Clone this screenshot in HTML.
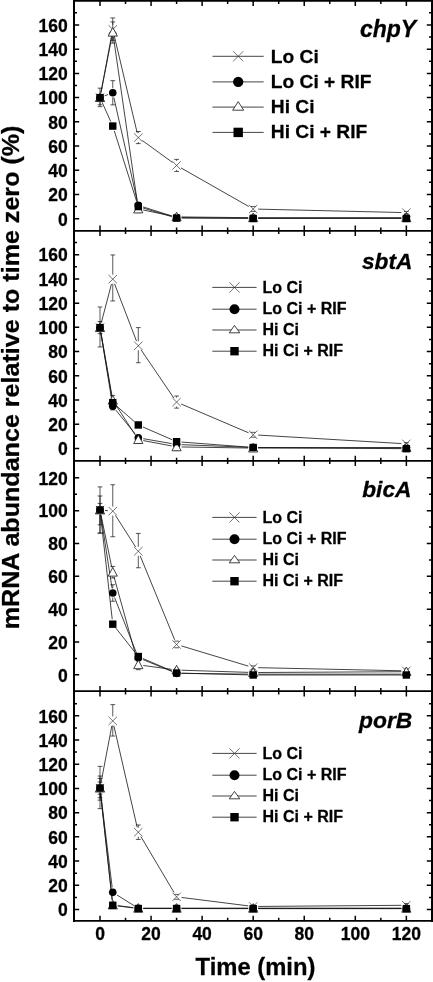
<!DOCTYPE html>
<html lang="en"><head><meta charset="utf-8"><title>mRNA abundance relative to time zero</title>
<style>html,body{margin:0;padding:0;background:#fff}body{width:433px;height:982px;overflow:hidden}svg{display:block}text{stroke:#000;stroke-width:0.28px;stroke-linejoin:round}</style>
</head><body>
<svg width="433" height="982" viewBox="0 0 433 982" font-family="'Liberation Sans', Arial, Helvetica, sans-serif" font-weight="bold" fill="#000">
<rect width="433" height="982" fill="#fff"/>
<g><path d="M100.92 92.69L111.84 34.34M113.91 34.29L137.15 132.7M142.34 140.5L172.55 162.47M180.94 167.89L248.83 206.54M258.18 209.13L401.36 212.53" fill="none" stroke="#151515" stroke-width="0.8"/><path d="M104.67 95.83L108.09 94.53M113.87 97.63L137.19 200.5M143.06 206.89L171.82 215.98M181.59 217.53L248.18 218.05M258.18 218.09L401.36 218.09" fill="none" stroke="#151515" stroke-width="0.8"/><path d="M100.96 92.69L111.81 37.11M113.48 37.15L137.58 204.06M143.19 210.02L171.69 215.88M181.59 216.94L248.18 217.68M258.18 217.73L401.36 217.73" fill="none" stroke="#151515" stroke-width="0.8"/><path d="M102.05 102.16L110.72 121.5M114.28 130.82L136.78 201.82M143.08 208.03L171.8 216.66M181.59 218.12L248.18 218.43M258.18 218.46L401.36 218.46" fill="none" stroke="#151515" stroke-width="0.8"/><path d="M100 88.15V93.1M97.6 88.15H102.4M100 102.1V106.68M97.6 106.68H102.4" fill="none" stroke="#111" stroke-width="0.7"/><path d="M112.77 17.92V24.92M110.36 17.92H115.17M112.77 33.92V40.32M110.36 40.32H115.17" fill="none" stroke="#111" stroke-width="0.7"/><path d="M138.3 131.51V133.06M135.9 131.51H140.7M138.3 142.06V143.62M135.9 143.62H140.7" fill="none" stroke="#111" stroke-width="0.7"/><path d="M176.59 159.36V160.92M174.19 159.36H178.99M176.59 169.92V171.47M174.19 171.47H178.99" fill="none" stroke="#111" stroke-width="0.7"/><path d="M250.78 206.59H255.58M250.78 211.43H255.58" fill="none" stroke="#111" stroke-width="0.7"/><path d="M403.96 211.43H408.76M403.96 213.86H408.76" fill="none" stroke="#111" stroke-width="0.7"/><path d="M100 102.1V104.87M97.6 104.87H102.4" fill="none" stroke="#111" stroke-width="0.7"/><path d="M112.77 80.65V88.26M110.36 80.65H115.17M112.77 97.26V104.87M110.36 104.87H115.17" fill="none" stroke="#111" stroke-width="0.7"/><path d="M135.9 202.96H140.7M135.9 207.8H140.7" fill="none" stroke="#111" stroke-width="0.7"/><path d="M112.77 21.91V27.71M110.36 21.91H115.17M112.77 36.71V43.1M110.36 43.1H115.17" fill="none" stroke="#111" stroke-width="0.7"/><path d="M135.9 205.38H140.7M135.9 212.64H140.7" fill="none" stroke="#111" stroke-width="0.7"/><path d="M174.19 215.67H178.99M174.19 218.09H178.99" fill="none" stroke="#111" stroke-width="0.7"/><path d="M135.9 204.17H140.7M135.9 209.01H140.7" fill="none" stroke="#111" stroke-width="0.7"/><path d="M95.8 93.4L104.2 101.8M95.8 101.8L104.2 93.4" stroke="#333" stroke-width="0.7" fill="none"/><path d="M108.56 25.22L116.97 33.62M108.56 33.62L116.97 25.22" stroke="#333" stroke-width="0.7" fill="none"/><path d="M134.1 133.36L142.5 141.76M134.1 141.76L142.5 133.36" stroke="#333" stroke-width="0.7" fill="none"/><path d="M172.39 161.22L180.79 169.62M172.39 169.62L180.79 161.22" stroke="#333" stroke-width="0.7" fill="none"/><path d="M248.98 204.81L257.38 213.21M248.98 213.21L257.38 204.81" stroke="#333" stroke-width="0.7" fill="none"/><path d="M402.16 208.44L410.56 216.84M402.16 216.84L410.56 208.44" stroke="#333" stroke-width="0.7" fill="none"/><circle cx="100" cy="97.6" r="3.8" fill="#000"/><circle cx="112.77" cy="92.76" r="3.8" fill="#000"/><circle cx="138.3" cy="205.38" r="3.8" fill="#000"/><circle cx="176.59" cy="217.49" r="3.8" fill="#000"/><circle cx="253.18" cy="218.09" r="3.8" fill="#000"/><circle cx="406.36" cy="218.09" r="3.8" fill="#000"/><path d="M100 92.9L104.6 101.5L95.4 101.5Z" fill="#fff" stroke="#111" stroke-width="0.8"/><path d="M112.77 27.51L117.36 36.11L108.17 36.11Z" fill="#fff" stroke="#111" stroke-width="0.8"/><path d="M138.3 204.31L142.9 212.91L133.7 212.91Z" fill="#fff" stroke="#111" stroke-width="0.8"/><path d="M176.59 212.18L181.19 220.78L171.99 220.78Z" fill="#fff" stroke="#111" stroke-width="0.8"/><path d="M253.18 213.03L257.78 221.63L248.58 221.63Z" fill="#fff" stroke="#111" stroke-width="0.8"/><path d="M406.36 213.03L410.96 221.63L401.76 221.63Z" fill="#fff" stroke="#111" stroke-width="0.8"/><rect x="96.3" y="93.9" width="7.4" height="7.4" fill="#000"/><rect x="109.06" y="122.36" width="7.4" height="7.4" fill="#000"/><rect x="134.6" y="202.89" width="7.4" height="7.4" fill="#000"/><rect x="172.89" y="214.39" width="7.4" height="7.4" fill="#000"/><rect x="249.48" y="214.76" width="7.4" height="7.4" fill="#000"/><rect x="402.66" y="214.76" width="7.4" height="7.4" fill="#000"/></g>
<path d="M212.5 56.3H263.7" stroke="#151515" stroke-width="0.8"/>
<path d="M233.1 51.2L243.3 61.4M233.1 61.4L243.3 51.2" stroke="#333" stroke-width="0.7" fill="none"/>
<text x="270.8" y="62.7" font-size="19.2">Lo Ci</text>
<path d="M212.5 81.9H263.7" stroke="#151515" stroke-width="0.8"/>
<circle cx="238.2" cy="81.9" r="5.15" fill="#000"/>
<text x="270.8" y="87.8" font-size="19.2">Lo Ci + RIF</text>
<path d="M212.5 107.1H263.7" stroke="#151515" stroke-width="0.8"/>
<path d="M238.2 101.6L243.7 110.2L232.7 110.2Z" fill="#fff" stroke="#111" stroke-width="0.8"/>
<text x="270.8" y="113.3" font-size="19.2">Hi Ci</text>
<path d="M212.5 132.4H263.7" stroke="#151515" stroke-width="0.8"/>
<rect x="233.5" y="127.7" width="9.4" height="9.4" fill="#000"/>
<text x="270.8" y="138.4" font-size="19.2">Hi Ci + RIF</text>
<text x="416.2" y="36.6" font-size="23" font-style="italic" text-anchor="end">chpY</text>
<g><path d="M101.27 322.77L111.49 283.99M114.55 283.83L136.51 341.1M141.11 349.9L173.78 397.94M181.19 404.04L248.58 432.81M258.17 435.07L401.37 443.56" fill="none" stroke="#151515" stroke-width="0.8"/><path d="M100.8 332.54L111.96 401.38M115.91 410.2L135.15 433.92M143.22 438.66L171.66 443.6M181.59 444.66L248.18 447.29M258.18 447.51L401.36 448.07" fill="none" stroke="#151515" stroke-width="0.8"/><path d="M100.87 332.52L111.9 395.34M115.49 404.45L135.57 435.42M143.21 440.55L171.68 445.95M181.59 446.96L248.18 448.02M258.18 448.07L401.36 447.51" fill="none" stroke="#151515" stroke-width="0.8"/><path d="M100.84 332.53L111.93 397.75M116.53 405.97L134.53 421.68M142.88 426.96L172.01 439.68M181.58 442.05L248.19 447.11M258.18 447.53L401.36 448.66" fill="none" stroke="#151515" stroke-width="0.8"/><path d="M100 307.01V323.1M97.6 307.01H102.4M100 332.1V346.98M97.6 346.98H102.4" fill="none" stroke="#111" stroke-width="0.7"/><path d="M112.77 254.94V274.66M110.36 254.94H115.17M112.77 283.66V300.96M110.36 300.96H115.17" fill="none" stroke="#111" stroke-width="0.7"/><path d="M138.3 327.6V341.26M135.9 327.6H140.7M138.3 350.26V362.72M135.9 362.72H140.7" fill="none" stroke="#111" stroke-width="0.7"/><path d="M176.59 396.02V397.58M174.19 396.02H178.99M176.59 406.58V408.13M174.19 408.13H178.99" fill="none" stroke="#111" stroke-width="0.7"/><path d="M250.78 432.35H255.58M250.78 437.2H255.58" fill="none" stroke="#111" stroke-width="0.7"/><path d="M403.96 442.64H408.76M403.96 445.07H408.76" fill="none" stroke="#111" stroke-width="0.7"/><path d="M100 321.54V323.1M97.6 321.54H102.4M100 332.1V333.65M97.6 333.65H102.4" fill="none" stroke="#111" stroke-width="0.7"/><path d="M110.36 402.68H115.17M110.36 409.95H115.17" fill="none" stroke="#111" stroke-width="0.7"/><path d="M135.9 435.38H140.7M135.9 440.22H140.7" fill="none" stroke="#111" stroke-width="0.7"/><path d="M174.19 443.25H178.99M174.19 445.67H178.99" fill="none" stroke="#111" stroke-width="0.7"/><path d="M112.77 395.42V395.76M110.36 395.42H115.17M112.77 404.76V405.1M110.36 405.1H115.17" fill="none" stroke="#111" stroke-width="0.7"/><path d="M135.9 435.98H140.7M135.9 443.25H140.7" fill="none" stroke="#111" stroke-width="0.7"/><path d="M174.19 443.25H178.99M174.19 450.52H178.99" fill="none" stroke="#111" stroke-width="0.7"/><path d="M110.36 400.26H115.17M110.36 405.1H115.17" fill="none" stroke="#111" stroke-width="0.7"/><path d="M95.8 323.4L104.2 331.8M95.8 331.8L104.2 323.4" stroke="#333" stroke-width="0.7" fill="none"/><path d="M108.56 274.96L116.97 283.36M108.56 283.36L116.97 274.96" stroke="#333" stroke-width="0.7" fill="none"/><path d="M134.1 341.56L142.5 349.96M134.1 349.96L142.5 341.56" stroke="#333" stroke-width="0.7" fill="none"/><path d="M172.39 397.88L180.79 406.28M172.39 406.28L180.79 397.88" stroke="#333" stroke-width="0.7" fill="none"/><path d="M248.98 430.57L257.38 438.97M248.98 438.97L257.38 430.57" stroke="#333" stroke-width="0.7" fill="none"/><path d="M402.16 439.66L410.56 448.06M402.16 448.06L410.56 439.66" stroke="#333" stroke-width="0.7" fill="none"/><circle cx="100" cy="327.6" r="3.8" fill="#000"/><circle cx="112.77" cy="406.31" r="3.8" fill="#000"/><circle cx="138.3" cy="437.8" r="3.8" fill="#000"/><circle cx="176.59" cy="444.46" r="3.8" fill="#000"/><circle cx="253.18" cy="447.49" r="3.8" fill="#000"/><circle cx="406.36" cy="448.09" r="3.8" fill="#000"/><path d="M100 322.9L104.6 331.5L95.4 331.5Z" fill="#fff" stroke="#111" stroke-width="0.8"/><path d="M112.77 395.56L117.36 404.16L108.17 404.16Z" fill="#fff" stroke="#111" stroke-width="0.8"/><path d="M138.3 434.92L142.9 443.52L133.7 443.52Z" fill="#fff" stroke="#111" stroke-width="0.8"/><path d="M176.59 442.18L181.19 450.78L171.99 450.78Z" fill="#fff" stroke="#111" stroke-width="0.8"/><path d="M253.18 443.39L257.78 451.99L248.58 451.99Z" fill="#fff" stroke="#111" stroke-width="0.8"/><path d="M406.36 442.79L410.96 451.39L401.76 451.39Z" fill="#fff" stroke="#111" stroke-width="0.8"/><rect x="96.3" y="323.9" width="7.4" height="7.4" fill="#000"/><rect x="109.06" y="398.98" width="7.4" height="7.4" fill="#000"/><rect x="134.6" y="421.26" width="7.4" height="7.4" fill="#000"/><rect x="172.89" y="437.98" width="7.4" height="7.4" fill="#000"/><rect x="249.48" y="443.79" width="7.4" height="7.4" fill="#000"/><rect x="402.66" y="445" width="7.4" height="7.4" fill="#000"/></g>
<path d="M212.3 287.4H256.6" stroke="#151515" stroke-width="0.8"/>
<path d="M229.4 282.3L239.6 292.5M229.4 292.5L239.6 282.3" stroke="#333" stroke-width="0.7" fill="none"/>
<text x="262.5" y="293.1" font-size="16">Lo Ci</text>
<path d="M212.3 309.2H256.6" stroke="#151515" stroke-width="0.8"/>
<circle cx="234.5" cy="309.2" r="5" fill="#000"/>
<text x="262.5" y="313.9" font-size="16">Lo Ci + RIF</text>
<path d="M212.3 330H256.6" stroke="#151515" stroke-width="0.8"/>
<path d="M234.5 325.4L239.75 332.8L229.25 332.8Z" fill="#fff" stroke="#111" stroke-width="0.8"/>
<text x="262.5" y="335.1" font-size="16">Hi Ci</text>
<path d="M212.3 351.2H256.6" stroke="#151515" stroke-width="0.8"/>
<rect x="230.3" y="347" width="8.4" height="8.4" fill="#000"/>
<text x="262.5" y="355.9" font-size="16">Hi Ci + RIF</text>
<text x="412.4" y="269.2" font-size="22.7" font-style="italic" text-anchor="end">sbtA</text>
<g><path d="M104.98 510.45L107.79 510.7M115.45 515.37L135.61 547.03M140.19 555.87L174.69 639.85M181.38 645.92L248.39 666.13M258.18 667.68L401.36 670.77" fill="none" stroke="#151515" stroke-width="0.8"/><path d="M100.76 514.94L112 588.05M114.6 597.65L136.46 653.02M142.92 659.57L171.96 671.46M181.59 673.4L248.18 674.12M258.18 674.17L401.36 674.17" fill="none" stroke="#151515" stroke-width="0.8"/><path d="M101.01 514.9L111.76 567.31M114.09 577.03L136.97 659.95M143.25 665.45L171.64 669.37M181.59 670.21L248.18 672.36M258.18 672.5L401.36 671.73" fill="none" stroke="#151515" stroke-width="0.8"/><path d="M100.56 514.97L112.21 619.21M115.86 628.1L135.2 652.6M142.89 658.5L172 671.04M181.59 673.15L248.18 674.87M258.18 675L401.36 675" fill="none" stroke="#151515" stroke-width="0.8"/><path d="M100 486.9V505.5M97.6 486.9H102.4M100 514.5V533.1M97.6 533.1H102.4" fill="none" stroke="#111" stroke-width="0.7"/><path d="M112.77 484.75V506.65M110.36 484.75H115.17M112.77 515.65V536.73M110.36 536.73H115.17" fill="none" stroke="#111" stroke-width="0.7"/><path d="M138.3 533.43V546.75M135.9 533.43H140.7M138.3 555.75V567.75M135.9 567.75H140.7" fill="none" stroke="#111" stroke-width="0.7"/><path d="M174.19 641.17H178.99M174.19 647.77H178.99" fill="none" stroke="#111" stroke-width="0.7"/><path d="M250.78 665.92H255.58M250.78 669.23H255.58" fill="none" stroke="#111" stroke-width="0.7"/><path d="M403.96 669.23H408.76M403.96 672.52H408.76" fill="none" stroke="#111" stroke-width="0.7"/><path d="M100 495.98V505.5M97.6 495.98H102.4M100 514.5V524.85M97.6 524.85H102.4" fill="none" stroke="#111" stroke-width="0.7"/><path d="M112.77 584.75V588.5M110.36 584.75H115.17M112.77 597.5V601.25M110.36 601.25H115.17" fill="none" stroke="#111" stroke-width="0.7"/><path d="M135.9 654.38H140.7M135.9 660.98H140.7" fill="none" stroke="#111" stroke-width="0.7"/><path d="M100 503.4V505.5M97.6 503.4H102.4M100 514.5V533.1M97.6 533.1H102.4" fill="none" stroke="#111" stroke-width="0.7"/><path d="M112.77 566.43V567.71M110.36 566.43H115.17M112.77 576.71V577.98M110.36 577.98H115.17" fill="none" stroke="#111" stroke-width="0.7"/><path d="M138.3 659.82V660.27M135.9 659.82H140.7M138.3 669.27V669.72M135.9 669.72H140.7" fill="none" stroke="#111" stroke-width="0.7"/><path d="M174.19 668.4H178.99M174.19 671.7H178.99" fill="none" stroke="#111" stroke-width="0.7"/><path d="M135.9 654.04H140.7M135.9 659H140.7" fill="none" stroke="#111" stroke-width="0.7"/><path d="M95.8 505.8L104.2 514.2M95.8 514.2L104.2 505.8" stroke="#333" stroke-width="0.7" fill="none"/><path d="M108.56 506.95L116.97 515.36M108.56 515.36L116.97 506.95" stroke="#333" stroke-width="0.7" fill="none"/><path d="M134.1 547.05L142.5 555.45M134.1 555.45L142.5 547.05" stroke="#333" stroke-width="0.7" fill="none"/><path d="M172.39 640.27L180.79 648.68M172.39 648.68L180.79 640.27" stroke="#333" stroke-width="0.7" fill="none"/><path d="M248.98 663.38L257.38 671.78M248.98 671.78L257.38 663.38" stroke="#333" stroke-width="0.7" fill="none"/><path d="M402.16 666.67L410.56 675.08M402.16 675.08L410.56 666.67" stroke="#333" stroke-width="0.7" fill="none"/><circle cx="100" cy="510" r="3.8" fill="#000"/><circle cx="112.77" cy="593" r="3.8" fill="#000"/><circle cx="138.3" cy="657.67" r="3.8" fill="#000"/><circle cx="176.59" cy="673.35" r="3.8" fill="#000"/><circle cx="253.18" cy="674.17" r="3.8" fill="#000"/><circle cx="406.36" cy="674.17" r="3.8" fill="#000"/><path d="M100 505.3L104.6 513.9L95.4 513.9Z" fill="#fff" stroke="#111" stroke-width="0.8"/><path d="M112.77 567.5L117.36 576.11L108.17 576.11Z" fill="#fff" stroke="#111" stroke-width="0.8"/><path d="M138.3 660.07L142.9 668.67L133.7 668.67Z" fill="#fff" stroke="#111" stroke-width="0.8"/><path d="M176.59 665.35L181.19 673.95L171.99 673.95Z" fill="#fff" stroke="#111" stroke-width="0.8"/><path d="M253.18 667.82L257.78 676.42L248.58 676.42Z" fill="#fff" stroke="#111" stroke-width="0.8"/><path d="M406.36 667L410.96 675.6L401.76 675.6Z" fill="#fff" stroke="#111" stroke-width="0.8"/><rect x="96.3" y="506.3" width="7.4" height="7.4" fill="#000"/><rect x="109.06" y="620.48" width="7.4" height="7.4" fill="#000"/><rect x="134.6" y="652.82" width="7.4" height="7.4" fill="#000"/><rect x="172.89" y="669.32" width="7.4" height="7.4" fill="#000"/><rect x="249.48" y="671.3" width="7.4" height="7.4" fill="#000"/><rect x="402.66" y="671.3" width="7.4" height="7.4" fill="#000"/></g>
<path d="M212.3 517.4H256.6" stroke="#151515" stroke-width="0.8"/>
<path d="M229.4 512.3L239.6 522.5M229.4 522.5L239.6 512.3" stroke="#333" stroke-width="0.7" fill="none"/>
<text x="262.5" y="523.1" font-size="16">Lo Ci</text>
<path d="M212.3 539.2H256.6" stroke="#151515" stroke-width="0.8"/>
<circle cx="234.5" cy="539.2" r="5" fill="#000"/>
<text x="262.5" y="543.9" font-size="16">Lo Ci + RIF</text>
<path d="M212.3 560H256.6" stroke="#151515" stroke-width="0.8"/>
<path d="M234.5 555.4L239.75 562.8L229.25 562.8Z" fill="#fff" stroke="#111" stroke-width="0.8"/>
<text x="262.5" y="565.1" font-size="16">Hi Ci</text>
<path d="M212.3 581.2H256.6" stroke="#151515" stroke-width="0.8"/>
<rect x="230.3" y="577" width="8.4" height="8.4" fill="#000"/>
<text x="262.5" y="585.9" font-size="16">Hi Ci + RIF</text>
<text x="411.4" y="496.6" font-size="22.7" font-style="italic" text-anchor="end">bicA</text>
<g><path d="M100.93 783.19L111.83 725.85M113.88 725.81L137.18 827.32M140.84 836.49L174.04 892.52M181.55 897.45L248.22 905.86M258.18 906.44L401.36 905.32" fill="none" stroke="#151515" stroke-width="0.8"/><path d="M100.61 793.06L112.16 887.39M117.01 895L134.05 905.65M143.3 908.3L171.59 908.3M181.59 908.3L248.18 908.3M258.18 908.3L401.36 908.3" fill="none" stroke="#151515" stroke-width="0.8"/><path d="M100.54 793.07L112.22 900.06M117.72 905.67L133.34 907.66M143.3 908.3L171.59 908.3M181.59 908.3L248.18 908.3M258.18 908.3L401.36 908.3" fill="none" stroke="#151515" stroke-width="0.8"/><path d="M100.54 793.07L112.22 900.31M117.72 905.91L133.34 907.9M143.3 908.54L171.59 908.54M181.59 908.55L248.18 908.65M258.18 908.66L401.36 908.66" fill="none" stroke="#151515" stroke-width="0.8"/><path d="M100 766.36V783.6M97.6 766.36H102.4M100 792.6V808.64M97.6 808.64H102.4" fill="none" stroke="#111" stroke-width="0.7"/><path d="M112.77 704.63V716.44M110.36 704.63H115.17M112.77 725.44V736.04M110.36 736.04H115.17" fill="none" stroke="#111" stroke-width="0.7"/><path d="M138.3 824.94V827.69M135.9 824.94H140.7M138.3 836.69V839.44M135.9 839.44H140.7" fill="none" stroke="#111" stroke-width="0.7"/><path d="M174.19 894.4H178.99M174.19 899.24H178.99" fill="none" stroke="#111" stroke-width="0.7"/><path d="M250.78 905.28H255.58M250.78 907.69H255.58" fill="none" stroke="#111" stroke-width="0.7"/><path d="M403.96 903.46H408.76M403.96 907.09H408.76" fill="none" stroke="#111" stroke-width="0.7"/><path d="M100 776.02V783.6M97.6 776.02H102.4M100 792.6V800.18M97.6 800.18H102.4" fill="none" stroke="#111" stroke-width="0.7"/><path d="M110.36 891.14H115.17M110.36 893.56H115.17" fill="none" stroke="#111" stroke-width="0.7"/><path d="M100 778.44V783.6M97.6 778.44H102.4M100 792.6V797.76M97.6 797.76H102.4" fill="none" stroke="#111" stroke-width="0.7"/><path d="M110.36 903.83H115.17M110.36 906.24H115.17" fill="none" stroke="#111" stroke-width="0.7"/><path d="M100 782.06V783.6M97.6 782.06H102.4M100 792.6V794.14M97.6 794.14H102.4" fill="none" stroke="#111" stroke-width="0.7"/><path d="M95.8 783.9L104.2 792.3M95.8 792.3L104.2 783.9" stroke="#333" stroke-width="0.7" fill="none"/><path d="M108.56 716.74L116.97 725.14M108.56 725.14L116.97 716.74" stroke="#333" stroke-width="0.7" fill="none"/><path d="M134.1 827.99L142.5 836.39M134.1 836.39L142.5 827.99" stroke="#333" stroke-width="0.7" fill="none"/><path d="M172.39 892.62L180.79 901.02M172.39 901.02L180.79 892.62" stroke="#333" stroke-width="0.7" fill="none"/><path d="M248.98 902.28L257.38 910.68M248.98 910.68L257.38 902.28" stroke="#333" stroke-width="0.7" fill="none"/><path d="M402.16 901.08L410.56 909.48M402.16 909.48L410.56 901.08" stroke="#333" stroke-width="0.7" fill="none"/><circle cx="100" cy="788.1" r="3.8" fill="#000"/><circle cx="112.77" cy="892.35" r="3.8" fill="#000"/><circle cx="138.3" cy="908.3" r="3.8" fill="#000"/><circle cx="176.59" cy="908.3" r="3.8" fill="#000"/><circle cx="253.18" cy="908.3" r="3.8" fill="#000"/><circle cx="406.36" cy="908.3" r="3.8" fill="#000"/><path d="M100 783.4L104.6 792L95.4 792Z" fill="#fff" stroke="#111" stroke-width="0.8"/><path d="M112.77 900.33L117.36 908.93L108.17 908.93Z" fill="#fff" stroke="#111" stroke-width="0.8"/><path d="M138.3 903.6L142.9 912.2L133.7 912.2Z" fill="#fff" stroke="#111" stroke-width="0.8"/><path d="M176.59 903.6L181.19 912.2L171.99 912.2Z" fill="#fff" stroke="#111" stroke-width="0.8"/><path d="M253.18 903.6L257.78 912.2L248.58 912.2Z" fill="#fff" stroke="#111" stroke-width="0.8"/><path d="M406.36 903.6L410.96 912.2L401.76 912.2Z" fill="#fff" stroke="#111" stroke-width="0.8"/><rect x="96.3" y="784.4" width="7.4" height="7.4" fill="#000"/><rect x="109.06" y="901.58" width="7.4" height="7.4" fill="#000"/><rect x="134.6" y="904.84" width="7.4" height="7.4" fill="#000"/><rect x="172.89" y="904.84" width="7.4" height="7.4" fill="#000"/><rect x="249.48" y="904.96" width="7.4" height="7.4" fill="#000"/><rect x="402.66" y="904.96" width="7.4" height="7.4" fill="#000"/></g>
<path d="M212.3 753.4H256.6" stroke="#151515" stroke-width="0.8"/>
<path d="M229.4 748.3L239.6 758.5M229.4 758.5L239.6 748.3" stroke="#333" stroke-width="0.7" fill="none"/>
<text x="262.5" y="759.1" font-size="16">Lo Ci</text>
<path d="M212.3 775.2H256.6" stroke="#151515" stroke-width="0.8"/>
<circle cx="234.5" cy="775.2" r="5" fill="#000"/>
<text x="262.5" y="779.9" font-size="16">Lo Ci + RIF</text>
<path d="M212.3 796H256.6" stroke="#151515" stroke-width="0.8"/>
<path d="M234.5 791.4L239.75 798.8L229.25 798.8Z" fill="#fff" stroke="#111" stroke-width="0.8"/>
<text x="262.5" y="801.1" font-size="16">Hi Ci</text>
<path d="M212.3 817.2H256.6" stroke="#151515" stroke-width="0.8"/>
<rect x="230.3" y="813" width="8.4" height="8.4" fill="#000"/>
<text x="262.5" y="821.9" font-size="16">Hi Ci + RIF</text>
<text x="412.3" y="728.3" font-size="22.8" font-style="italic" text-anchor="end">porB</text>
<path d="M74.0 0V921.9M432.0 0V921.9" stroke="#000" stroke-width="2" fill="none"/><path d="M73.0 0.9H433.0" stroke="#000" stroke-width="1.7" fill="none"/><path d="M73.0 230.8H433.0" stroke="#000" stroke-width="1.7" fill="none"/><path d="M73.0 460.9H433.0" stroke="#000" stroke-width="1.7" fill="none"/><path d="M73.0 691.2H433.0" stroke="#000" stroke-width="1.7" fill="none"/><path d="M73.0 920.9H433.0" stroke="#000" stroke-width="1.7" fill="none"/><path d="M100 0.9v5.2M100 225.6v10.4M100 455.7v10.4M100 686v10.4M100 920.9v-5.2M125.53 0.9v3.2M125.53 227.6v6.4M125.53 457.7v6.4M125.53 688v6.4M125.53 920.9v-3.2M151.06 0.9v5.2M151.06 225.6v10.4M151.06 455.7v10.4M151.06 686v10.4M151.06 920.9v-5.2M176.59 0.9v3.2M176.59 227.6v6.4M176.59 457.7v6.4M176.59 688v6.4M176.59 920.9v-3.2M202.12 0.9v5.2M202.12 225.6v10.4M202.12 455.7v10.4M202.12 686v10.4M202.12 920.9v-5.2M227.65 0.9v3.2M227.65 227.6v6.4M227.65 457.7v6.4M227.65 688v6.4M227.65 920.9v-3.2M253.18 0.9v5.2M253.18 225.6v10.4M253.18 455.7v10.4M253.18 686v10.4M253.18 920.9v-5.2M278.71 0.9v3.2M278.71 227.6v6.4M278.71 457.7v6.4M278.71 688v6.4M278.71 920.9v-3.2M304.24 0.9v5.2M304.24 225.6v10.4M304.24 455.7v10.4M304.24 686v10.4M304.24 920.9v-5.2M329.77 0.9v3.2M329.77 227.6v6.4M329.77 457.7v6.4M329.77 688v6.4M329.77 920.9v-3.2M355.3 0.9v5.2M355.3 225.6v10.4M355.3 455.7v10.4M355.3 686v10.4M355.3 920.9v-5.2M380.83 0.9v3.2M380.83 227.6v6.4M380.83 457.7v6.4M380.83 688v6.4M380.83 920.9v-3.2M406.36 0.9v5.2M406.36 225.6v10.4M406.36 455.7v10.4M406.36 686v10.4M406.36 920.9v-5.2M74.0 218.7h5.2M432.0 218.7h-5.2M74.0 206.59h3M432.0 206.59h-3M74.0 194.48h5.2M432.0 194.48h-5.2M74.0 182.37h3M432.0 182.37h-3M74.0 170.26h5.2M432.0 170.26h-5.2M74.0 158.15h3M432.0 158.15h-3M74.0 146.04h5.2M432.0 146.04h-5.2M74.0 133.93h3M432.0 133.93h-3M74.0 121.82h5.2M432.0 121.82h-5.2M74.0 109.71h3M432.0 109.71h-3M74.0 97.6h5.2M432.0 97.6h-5.2M74.0 85.49h3M432.0 85.49h-3M74.0 73.38h5.2M432.0 73.38h-5.2M74.0 61.27h3M432.0 61.27h-3M74.0 49.16h5.2M432.0 49.16h-5.2M74.0 37.05h3M432.0 37.05h-3M74.0 24.94h5.2M432.0 24.94h-5.2M74.0 12.83h3M432.0 12.83h-3M74.0 448.45h5.2M432.0 448.45h-5.2M74.0 436.34h3M432.0 436.34h-3M74.0 424.23h5.2M432.0 424.23h-5.2M74.0 412.12h3M432.0 412.12h-3M74.0 400.01h5.2M432.0 400.01h-5.2M74.0 387.9h3M432.0 387.9h-3M74.0 375.79h5.2M432.0 375.79h-5.2M74.0 363.68h3M432.0 363.68h-3M74.0 351.57h5.2M432.0 351.57h-5.2M74.0 339.46h3M432.0 339.46h-3M74.0 327.35h5.2M432.0 327.35h-5.2M74.0 315.24h3M432.0 315.24h-3M74.0 303.13h5.2M432.0 303.13h-5.2M74.0 291.02h3M432.0 291.02h-3M74.0 278.91h5.2M432.0 278.91h-5.2M74.0 266.8h3M432.0 266.8h-3M74.0 254.69h5.2M432.0 254.69h-5.2M74.0 242.58h3M432.0 242.58h-3M74.0 674.8h5.2M432.0 674.8h-5.2M74.0 658.38h3M432.0 658.38h-3M74.0 641.97h5.2M432.0 641.97h-5.2M74.0 625.55h3M432.0 625.55h-3M74.0 609.13h5.2M432.0 609.13h-5.2M74.0 592.71h3M432.0 592.71h-3M74.0 576.3h5.2M432.0 576.3h-5.2M74.0 559.88h3M432.0 559.88h-3M74.0 543.46h5.2M432.0 543.46h-5.2M74.0 527.05h3M432.0 527.05h-3M74.0 510.63h5.2M432.0 510.63h-5.2M74.0 494.21h3M432.0 494.21h-3M74.0 477.8h5.2M432.0 477.8h-5.2M74.0 909.5h5.2M432.0 909.5h-5.2M74.0 897.39h3M432.0 897.39h-3M74.0 885.29h5.2M432.0 885.29h-5.2M74.0 873.18h3M432.0 873.18h-3M74.0 861.08h5.2M432.0 861.08h-5.2M74.0 848.97h3M432.0 848.97h-3M74.0 836.86h5.2M432.0 836.86h-5.2M74.0 824.76h3M432.0 824.76h-3M74.0 812.65h5.2M432.0 812.65h-5.2M74.0 800.55h3M432.0 800.55h-3M74.0 788.44h5.2M432.0 788.44h-5.2M74.0 776.33h3M432.0 776.33h-3M74.0 764.23h5.2M432.0 764.23h-5.2M74.0 752.12h3M432.0 752.12h-3M74.0 740.02h5.2M432.0 740.02h-5.2M74.0 727.91h3M432.0 727.91h-3M74.0 715.8h5.2M432.0 715.8h-5.2M74.0 703.7h3M432.0 703.7h-3" stroke="#000" stroke-width="1.5" fill="none"/>
<text x="67.8" y="225.5" font-size="17.5" text-anchor="end">0</text>
<text x="67.8" y="201.28" font-size="17.5" text-anchor="end">20</text>
<text x="67.8" y="177.06" font-size="17.5" text-anchor="end">40</text>
<text x="67.8" y="152.84" font-size="17.5" text-anchor="end">60</text>
<text x="67.8" y="128.62" font-size="17.5" text-anchor="end">80</text>
<text x="67.8" y="104.4" font-size="17.5" text-anchor="end">100</text>
<text x="67.8" y="80.18" font-size="17.5" text-anchor="end">120</text>
<text x="67.8" y="55.96" font-size="17.5" text-anchor="end">140</text>
<text x="67.8" y="31.74" font-size="17.5" text-anchor="end">160</text>
<text x="67.8" y="455.25" font-size="17.5" text-anchor="end">0</text>
<text x="67.8" y="431.03" font-size="17.5" text-anchor="end">20</text>
<text x="67.8" y="406.81" font-size="17.5" text-anchor="end">40</text>
<text x="67.8" y="382.59" font-size="17.5" text-anchor="end">60</text>
<text x="67.8" y="358.37" font-size="17.5" text-anchor="end">80</text>
<text x="67.8" y="334.15" font-size="17.5" text-anchor="end">100</text>
<text x="67.8" y="309.93" font-size="17.5" text-anchor="end">120</text>
<text x="67.8" y="285.71" font-size="17.5" text-anchor="end">140</text>
<text x="67.8" y="261.49" font-size="17.5" text-anchor="end">160</text>
<text x="67.8" y="681.6" font-size="17.5" text-anchor="end">0</text>
<text x="67.8" y="648.77" font-size="17.5" text-anchor="end">20</text>
<text x="67.8" y="615.93" font-size="17.5" text-anchor="end">40</text>
<text x="67.8" y="583.1" font-size="17.5" text-anchor="end">60</text>
<text x="67.8" y="550.26" font-size="17.5" text-anchor="end">80</text>
<text x="67.8" y="517.43" font-size="17.5" text-anchor="end">100</text>
<text x="67.8" y="484.6" font-size="17.5" text-anchor="end">120</text>
<text x="67.8" y="916.3" font-size="17.5" text-anchor="end">0</text>
<text x="67.8" y="892.09" font-size="17.5" text-anchor="end">20</text>
<text x="67.8" y="867.88" font-size="17.5" text-anchor="end">40</text>
<text x="67.8" y="843.66" font-size="17.5" text-anchor="end">60</text>
<text x="67.8" y="819.45" font-size="17.5" text-anchor="end">80</text>
<text x="67.8" y="795.24" font-size="17.5" text-anchor="end">100</text>
<text x="67.8" y="771.03" font-size="17.5" text-anchor="end">120</text>
<text x="67.8" y="746.82" font-size="17.5" text-anchor="end">140</text>
<text x="67.8" y="722.6" font-size="17.5" text-anchor="end">160</text>
<text x="100" y="939.6" font-size="17.5" text-anchor="middle">0</text>
<text x="151.06" y="939.6" font-size="17.5" text-anchor="middle">20</text>
<text x="202.12" y="939.6" font-size="17.5" text-anchor="middle">40</text>
<text x="253.18" y="939.6" font-size="17.5" text-anchor="middle">60</text>
<text x="304.24" y="939.6" font-size="17.5" text-anchor="middle">80</text>
<text x="355.3" y="939.6" font-size="17.5" text-anchor="middle">100</text>
<text x="406.36" y="939.6" font-size="17.5" text-anchor="middle">120</text>
<text x="255.5" y="975.3" font-size="23.8" text-anchor="middle">Time (min)</text>
<text transform="translate(18.6 629.3) rotate(-90) scale(1 0.955)" font-size="25.1">mRNA abundance relative to time zero (%)</text>
</svg>
</body></html>
